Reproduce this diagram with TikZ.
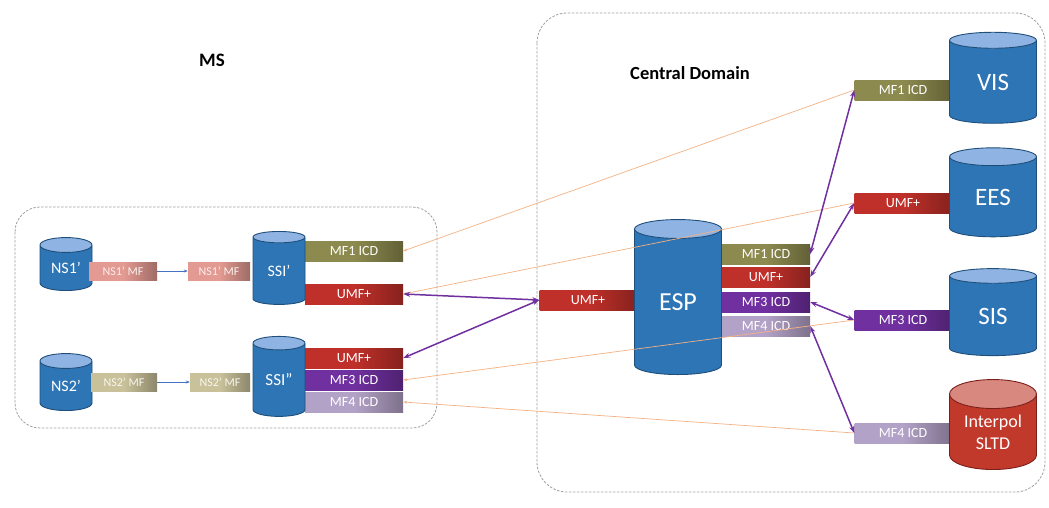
\documentclass[tikz,border=0pt]{standalone}
\usepackage{fontspec}
\setmainfont{Carlito}
\usetikzlibrary{shapes.geometric,arrows.meta}
\definecolor{cylblue}{HTML}{2E75B6}
\definecolor{cyltop}{HTML}{8FB4E3}
\definecolor{cyledge}{HTML}{1F4E79}
\definecolor{olivebox}{HTML}{8C8A4E}
\definecolor{redbox}{HTML}{C0302A}
\definecolor{purplebox}{HTML}{7030A0}
\definecolor{lavbox}{HTML}{B3A2C7}
\definecolor{pinkbox}{HTML}{E39A92}
\definecolor{tanbox}{HTML}{C9C19A}
\definecolor{arrowpurple}{HTML}{7030A0}
\definecolor{peach}{HTML}{F4B183}
\definecolor{intred}{HTML}{C0392B}
\definecolor{inttop}{HTML}{D98880}
\definecolor{intedge}{HTML}{7B1F1A}
\definecolor{nsarrow}{HTML}{4472C4}
\begin{document}
\begin{tikzpicture}[x=1pt,y=-1pt,
  db/.style={cylinder, shape border rotate=90, aspect=0.5, draw=cyledge, line width=0.9pt,
    cylinder uses custom fill, cylinder body fill=cylblue, cylinder end fill=cyltop,
    text=white, inner sep=0pt, font=\fontsize{25}{27}\selectfont},
  dbs/.style={db, font=\fontsize{16}{18}\selectfont},
  dbred/.style={db, draw=intedge, cylinder body fill=intred, cylinder end fill=inttop,
    font=\fontsize{18}{22}\selectfont, align=center},
  bx/.style={rectangle, minimum height=20pt, inner sep=1pt, text=white,
    font=\fontsize{14}{15}\selectfont, left color=#1, right color=#1!70!black, middle color=#1},
  nsbx/.style={bx=#1, minimum height=18pt, text=white!85!#1, font=\fontsize{12}{13}\selectfont},
  frame/.style={draw=gray!75, dashed, dash pattern=on 2.5pt off 1.5pt, line width=0.8pt},
  link/.style={draw=arrowpurple, line width=1.5pt, {Stealth[length=7pt,width=5pt]}-{Stealth[length=7pt,width=5pt]}},
  thin/.style={draw=peach, line width=0.7pt, -{Stealth[length=4pt,width=3pt]}},
  nsar/.style={draw=nsarrow, line width=0.6pt, -{Stealth[length=4pt,width=3pt]}},
  title/.style={font=\bfseries\fontsize{19}{21}\selectfont, text=black}
]
\useasboundingbox (0,0) rectangle (1049,507);

% frames
\draw[frame, rounded corners=25pt] (15,207) rectangle (437,428);
\draw[frame, rounded corners=30pt] (537,13) rectangle (1045,492);
\node[title] (mslabel) at (212,60) {MS};
\node[title, font=\bfseries\fontsize{18.5}{20}\selectfont] (cdlabel) at (690,73) {Central Domain};

% national systems
\node[dbs, minimum width=52pt, minimum height=53pt] (ns1) at (66,268) {NS1'};
\node[dbs, minimum width=52pt, minimum height=57pt] (ns2) at (66,386) {NS2'};

% MS boxes
\node[nsbx=pinkbox, minimum width=68pt] (ns1a) at (123,271) {NS1' MF};
\node[nsbx=pinkbox, minimum width=62pt] (ns1b) at (219,271) {NS1' MF};
\node[nsbx=tanbox, minimum width=66pt] (ns2a) at (124,382) {NS2' MF};
\node[nsbx=tanbox, minimum width=60pt] (ns2b) at (220,382) {NS2' MF};
\node[bx=olivebox, minimum width=98pt] (msmf1) at (354,251) {MF1 ICD};
\node[bx=redbox, minimum width=98pt] (msumf1) at (354,294) {UMF+};
\node[bx=redbox, minimum width=98pt] (msumf2) at (354,358) {UMF+};
\node[bx=purplebox, minimum width=98pt] (msmf3) at (354,380) {MF3 ICD};
\node[bx=lavbox, minimum width=98pt] (msmf4) at (354,402) {MF4 ICD};

% central boxes
\node[bx=redbox, minimum width=97pt] (espumfl) at (588,300) {UMF+};
\node[bx=olivebox, minimum width=88pt] (espmf1) at (766,254) {MF1 ICD};
\node[bx=redbox, minimum width=88pt] (espumf) at (766,277) {UMF+};
\node[bx=purplebox, minimum width=88pt] (espmf3) at (766,302) {MF3 ICD};
\node[bx=lavbox, minimum width=88pt] (espmf4) at (766,326) {MF4 ICD};
\node[bx=olivebox, minimum width=97pt] (vismf1) at (903,90) {MF1 ICD};
\node[bx=redbox, minimum width=97pt] (eesumf) at (903,203) {UMF+};
\node[bx=purplebox, minimum width=97pt] (sismf3) at (903,320) {MF3 ICD};
\node[bx=lavbox, minimum width=97pt] (intmf4) at (903,433) {MF4 ICD};

% cylinders
\node[dbs, minimum width=52pt, minimum height=73pt] (ssi1) at (279,271) {SSI'};
\node[dbs, font=\fontsize{17}{19}\selectfont, minimum width=52pt, minimum height=80pt] (ssi2) at (279,380) {SSI''};
\node[db, font=\fontsize{26}{28}\selectfont, minimum width=87pt, minimum height=155pt] (esp) at (678,302) {ESP};
\node[db, minimum width=87pt, minimum height=91pt] (vis) at (993,82) {VIS};
\node[db, minimum width=87pt, minimum height=89pt] (ees) at (993,197) {EES};
\node[db, minimum width=87pt, minimum height=87pt] (sis) at (993,316) {SIS};
\node[dbred, minimum width=87pt, minimum height=90pt] (int) at (993,432) {Interpol\\SLTD};

% NS arrows
\draw[nsar] (ns1a.east) -- (ns1b.west);
\draw[nsar] (ns2a.east) -- (ns2b.west);

% thin data lines
\draw[thin] (vismf1.west) -- (msmf1.east);
\draw[thin] (eesumf.west) -- (msumf1.east);
\draw[thin] (sismf3.west) -- (msmf3.east);
\draw[thin] (intmf4.west) -- (msmf4.east);

% purple links
\draw[link] (msumf1.east) -- (espumfl.west);
\draw[link] (msumf2.east) -- (espumfl.west);
\draw[link] (espmf1.east) -- (vismf1.west);
\draw[link] (espumf.east) -- (eesumf.west);
\draw[link] (espmf3.east) -- (sismf3.west);
\draw[link] (espmf4.east) -- (intmf4.west);
\end{tikzpicture}
\end{document}
